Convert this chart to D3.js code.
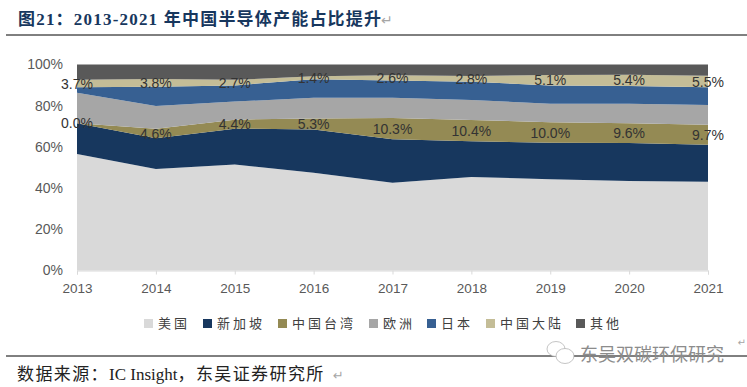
<!DOCTYPE html>
<html lang="zh">
<head>
<meta charset="UTF-8">
<title>图21</title>
<script src="https://d3js.org/d3.v7.min.js"></script>
<style>
  html, body { margin: 0; padding: 0; background: #fff; }
  svg { display: block; }
  text { font-family: "Liberation Sans", Arial, sans-serif; }
  .cjk { font-family: "Liberation Serif", "Noto Sans CJK SC", serif; }
</style>
</head>
<body>
<div id="chart"></div>
<script>
// 数据（从图上读取，单位 %）
const years = ["2013", "2014", "2015", "2016", "2017", "2018", "2019", "2020", "2021"];
const regions = ["美国", "新加坡", "中国台湾", "欧洲", "日本", "中国大陆", "其他"];
const colors = ["#d9d9d9", "#17375e", "#948a54", "#a6a6a6", "#376092", "#c4bd97", "#595959"];

const usa = [56.5, 49.3, 51.7, 47.5, 42.6, 45.4, 44.3, 43.4, 43.1];
const singapore = [15.0, 14.9, 17.5, 21.0, 21.1, 17.3, 17.7, 18.5, 17.9];
const taiwan = [0.0, 4.6, 4.4, 5.3, 10.3, 10.4, 10.0, 9.6, 9.7];
const europe = [14.8, 11.0, 8.8, 10.0, 9.9, 9.7, 8.9, 9.5, 9.5];
const japan = [2.6, 9.4, 7.9, 9.1, 8.3, 8.8, 8.9, 8.6, 8.7];
const mainland = [3.7, 3.8, 2.7, 1.4, 2.6, 2.8, 5.1, 5.4, 5.5];
const others = [7.4, 7.0, 7.5, 5.7, 5.2, 5.6, 5.1, 5.0, 5.5];

const yTicks = [0, 20, 40, 60, 80, 100];

const width = 747, height = 387;
const svg = d3.select("#chart").append("svg")
  .attr("width", width)
  .attr("height", height);

const table = years.map((y, i) => ({
  year: y,
  "美国": usa[i], "新加坡": singapore[i], "中国台湾": taiwan[i], "欧洲": europe[i],
  "日本": japan[i], "中国大陆": mainland[i], "其他": others[i]
}));
const stacked = d3.stack().keys(regions).offset(d3.stackOffsetExpand)(table);

const x = d3.scalePoint().domain(years).range([77, 708]);
const y = d3.scaleLinear().domain([0, 1]).range([270.5, 64.5]);
const color = d3.scaleOrdinal().domain(regions).range(colors);

// 面积
const area = d3.area()
  .x(d => x(d.data.year))
  .y0(d => y(d[0]))
  .y1(d => y(d[1]));

svg.append("g").selectAll("path")
  .data(stacked)
  .enter().append("path")
  .attr("d", area)
  .attr("fill", d => color(d.key));

// 坐标轴
const xAxis = svg.append("g")
  .attr("transform", "translate(0,270.5)")
  .call(d3.axisBottom(x).tickSize(4).tickPadding(9));
xAxis.select(".domain").attr("stroke", "#d9d9d9");
xAxis.selectAll(".tick line").attr("stroke", "#d9d9d9");
xAxis.selectAll("text").attr("font-size", 13.5).attr("fill", "#595959")
  .style("font-family", '"Liberation Sans"');

const yAxis = svg.append("g")
  .attr("transform", "translate(77,0)")
  .call(d3.axisLeft(y).tickValues(yTicks.map(d => d / 100)).tickFormat(d3.format(".0%")).tickSize(0).tickPadding(14));
yAxis.select(".domain").remove();
yAxis.selectAll("text").attr("font-size", 14).attr("fill", "#595959")
  .style("font-family", '"Liberation Sans"');

// 数据标签：中国台湾、中国大陆
[["中国台湾", taiwan], ["中国大陆", mainland]].forEach(([key, vals]) => {
  const layer = stacked[regions.indexOf(key)];
  svg.append("g").selectAll("text")
    .data(layer)
    .enter().append("text")
    .attr("x", d => x(d.data.year))
    .attr("y", d => y((d[0] + d[1]) / 2))
    .attr("dy", "0.36em")
    .attr("text-anchor", "middle")
    .attr("font-size", 14)
    .attr("fill", "#333")
    .text((d, i) => vals[i].toFixed(1) + "%");
});

// 图例
const legendX = [144, 203, 278, 369, 427, 486, 576];
const legend = svg.append("g").selectAll("g")
  .data(regions)
  .enter().append("g")
  .attr("transform", (d, i) => `translate(${legendX[i]},323.5)`);
legend.append("rect")
  .attr("y", -4.5).attr("width", 9).attr("height", 9)
  .attr("fill", d => color(d));
legend.append("text")
  .attr("x", 14).attr("dy", "0.38em")
  .attr("font-size", 13).attr("letter-spacing", 3)
  .attr("fill", "#404040")
  .style("font-family", '"Noto Sans CJK SC"')
  .text(d => d);

// 标题和来源
svg.append("text").attr("class", "cjk")
  .attr("x", 18).attr("y", 25)
  .attr("font-size", 17).attr("font-weight", "bold")
  .attr("fill", "#17375e")
  .attr("textLength", 363).attr("lengthAdjust", "spacing")
  .text("图21：2013-2021 年中国半导体产能占比提升");
svg.append("text")
  .attr("x", 381).attr("y", 25)
  .attr("font-size", 14).attr("fill", "#a6a6a6")
  .style("font-family", '"DejaVu Sans"')
  .text("↵");

svg.append("line").attr("x1", 6).attr("x2", 747).attr("y1", 35).attr("y2", 35)
  .attr("stroke", "#000").attr("stroke-width", 1);
svg.append("line").attr("x1", 6).attr("x2", 747).attr("y1", 356).attr("y2", 356)
  .attr("stroke", "#000").attr("stroke-width", 1);

const source = svg.append("text").attr("class", "cjk")
  .attr("x", 17).attr("y", 380)
  .attr("font-size", 17).attr("fill", "#222");
source.append("tspan").attr("letter-spacing", 1.4).text("数据来源：");
source.append("tspan").text("IC Insight");
source.append("tspan").attr("letter-spacing", 1.4).text("，东吴证券研究所");
svg.append("text")
  .attr("x", 333).attr("y", 380)
  .attr("font-size", 13).attr("fill", "#a6a6a6")
  .style("font-family", '"DejaVu Sans"')
  .text("↵");

// 水印
const mark = svg.append("g").attr("transform", "translate(559,354)")
  .attr("fill", "#fff").attr("stroke", "#aaa").attr("stroke-width", 0.7);
mark.append("ellipse").attr("cx", -3).attr("cy", -5).attr("rx", 9).attr("ry", 7.5);
mark.append("ellipse").attr("cx", 6).attr("cy", 2).attr("rx", 9).attr("ry", 7.5);
svg.append("text")
  .attr("x", 580).attr("y", 361)
  .attr("font-size", 18).attr("fill", "#8c8c8c")
  .style("font-family", '"Noto Sans CJK SC"')
  .text("东吴双碳环保研究");
svg.append("text")
  .attr("x", 746).attr("y", 346)
  .attr("text-anchor", "end")
  .attr("font-size", 10).attr("fill", "#a6a6a6")
  .style("font-family", '"DejaVu Sans"')
  .text("↵");
</script>
</body>
</html>
